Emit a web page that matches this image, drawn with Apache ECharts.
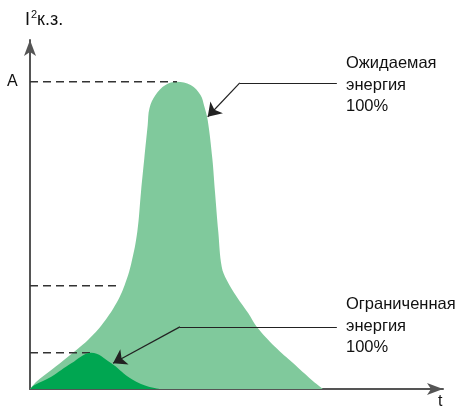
<!DOCTYPE html>
<html>
<head>
<meta charset="utf-8">
<script src="https://cdn.jsdelivr.net/npm/echarts@6/dist/echarts.min.js"></script>
<style>
  html, body { margin: 0; padding: 0; background: #fff; }
  #chart { width: 457px; height: 409px; }
</style>
</head>
<body>
<div id="chart"></div>
<script>
// Expected (prospective) let-through energy I²t over time, arbitrary units [t, I²]
const expectedEnergy = [
  [0, 0], [1.53, 2.09], [5.16, 5.44], [9.20, 9.26], [14.04, 14.04],
  [17.68, 18.83], [20.90, 24.56], [22.93, 29.80], [24.53, 36.02],
  [25.98, 45.07], [26.88, 56.53], [27.68, 66.10], [28.50, 75.64],
  [28.93, 80.43], [30.39, 84.24], [32.81, 87.11], [35.52, 88.05],
  [38.9, 87.11], [41.28, 84.24], [42.2, 81.0], [43.03, 77.0],
  [44.14, 66.10], [44.79, 56.53], [45.59, 45.07], [46.42, 35.04],
  [47.63, 31.23], [50.05, 26.45], [52.86, 21.69], [54.89, 17.85],
  [59.32, 12.12], [63.75, 7.36], [68.21, 2.58], [70.63, 0.29], [70.94, 0]
];

// Limited energy with the protective device
const limitedEnergy = [
  [0, 0], [1.14, 1.15], [5.16, 3.52], [10.0, 7.36], [14.84, 10.40],
  [19.69, 7.36], [23.73, 3.52], [27.85, 1.0], [31.48, 0]
];

// Reference levels marked on the vertical axis (level, end of dashed line)
const levelA = [[0, 88.05], [35.6, 88.05]];
const levelMid = [[0, 29.6], [21.96, 29.6]];
const levelLow = [[0, 10.4], [14.7, 10.4]];

// Callout leaders: horizontal part and arrow part
const calloutExpected = [[74.3, 87.7], [50.8, 87.7], [43.03, 78.0]];
const calloutLimited = [[74.3, 17.8], [36.3, 17.8], [20.1, 7.4]];

const labelExpected = ['Ожидаемая', 'энергия', '100%'];
const labelLimited = ['Ограниченная', 'энергия', '100%'];

const FONT = '"Liberation Sans", Arial, sans-serif';
const AXIS_COLOR = '#555555';

// Filled smooth outline of an energy curve, projected through the cartesian axes
function energyArea(points, color, z) {
  return {
    type: 'custom', silent: true, z: z, clip: false,
    data: [0],
    renderItem: function (params, api) {
      return {
        type: 'polyline',
        shape: { points: points.map(function (p) { return api.coord(p); }), smooth: 0.38 },
        style: { fill: color, stroke: null, lineWidth: 0 }
      };
    }
  };
}

function dashed(data) {
  return {
    type: 'line', data: data, symbol: 'none', silent: true, z: 3,
    lineStyle: { color: '#333', width: 1.5, type: [8, 5] }
  };
}

function leader(pts) {
  return {
    type: 'lines', coordinateSystem: 'cartesian2d', silent: true, z: 5,
    lineStyle: { color: '#222', width: 1.2, opacity: 1 },
    data: [
      { coords: [pts[0], pts[1]], symbol: ['none', 'none'] },
      { coords: [pts[1], pts[2]], symbol: ['none', 'arrow'], symbolSize: 13 }
    ]
  };
}

const axisBase = {
  type: 'value', min: 0, max: 100,
  axisTick: { show: false }, axisLabel: { show: false }, splitLine: { show: false },
  axisLine: {
    show: true, symbol: ['none', 'arrow'], symbolSize: [9, 16],
    lineStyle: { color: AXIS_COLOR, width: 2 }
  }
};

const chart = echarts.init(document.getElementById('chart'), null, { renderer: 'canvas' });
chart.setOption({
  animation: false,
  grid: { left: 30, right: 14, top: 40, bottom: 20 },
  xAxis: Object.assign({}, axisBase),
  yAxis: Object.assign({}, axisBase),
  series: [
    energyArea(expectedEnergy, '#80c99c', 2),
    energyArea(limitedEnergy, '#00a651', 4),
    dashed(levelA), dashed(levelMid), dashed(levelLow),
    leader(calloutExpected), leader(calloutLimited)
  ],
  graphic: [
    { type: 'text', x: 25, y: 11, style: { text: 'I', font: '18px ' + FONT, fill: '#111' } },
    { type: 'text', x: 31, y: 9, style: { text: '2', font: '11px ' + FONT, fill: '#111' } },
    { type: 'text', x: 37, y: 11, style: { text: 'к.з.', font: '18px ' + FONT, fill: '#111' } },
    { type: 'text', x: 7, y: 74, style: { text: 'A', font: '16px ' + FONT, fill: '#111' } },
    { type: 'text', x: 438, y: 394, style: { text: 't', font: '16px ' + FONT, fill: '#111' } },
    { type: 'text', x: 346, y: 53, style: { text: labelExpected.join('\n'), font: '16.5px ' + FONT, lineHeight: 21.5, fill: '#111' } },
    { type: 'text', x: 346, y: 294, style: { text: labelLimited.join('\n'), font: '16.5px ' + FONT, lineHeight: 21.5, fill: '#111' } }
  ]
});
</script>
</body>
</html>
